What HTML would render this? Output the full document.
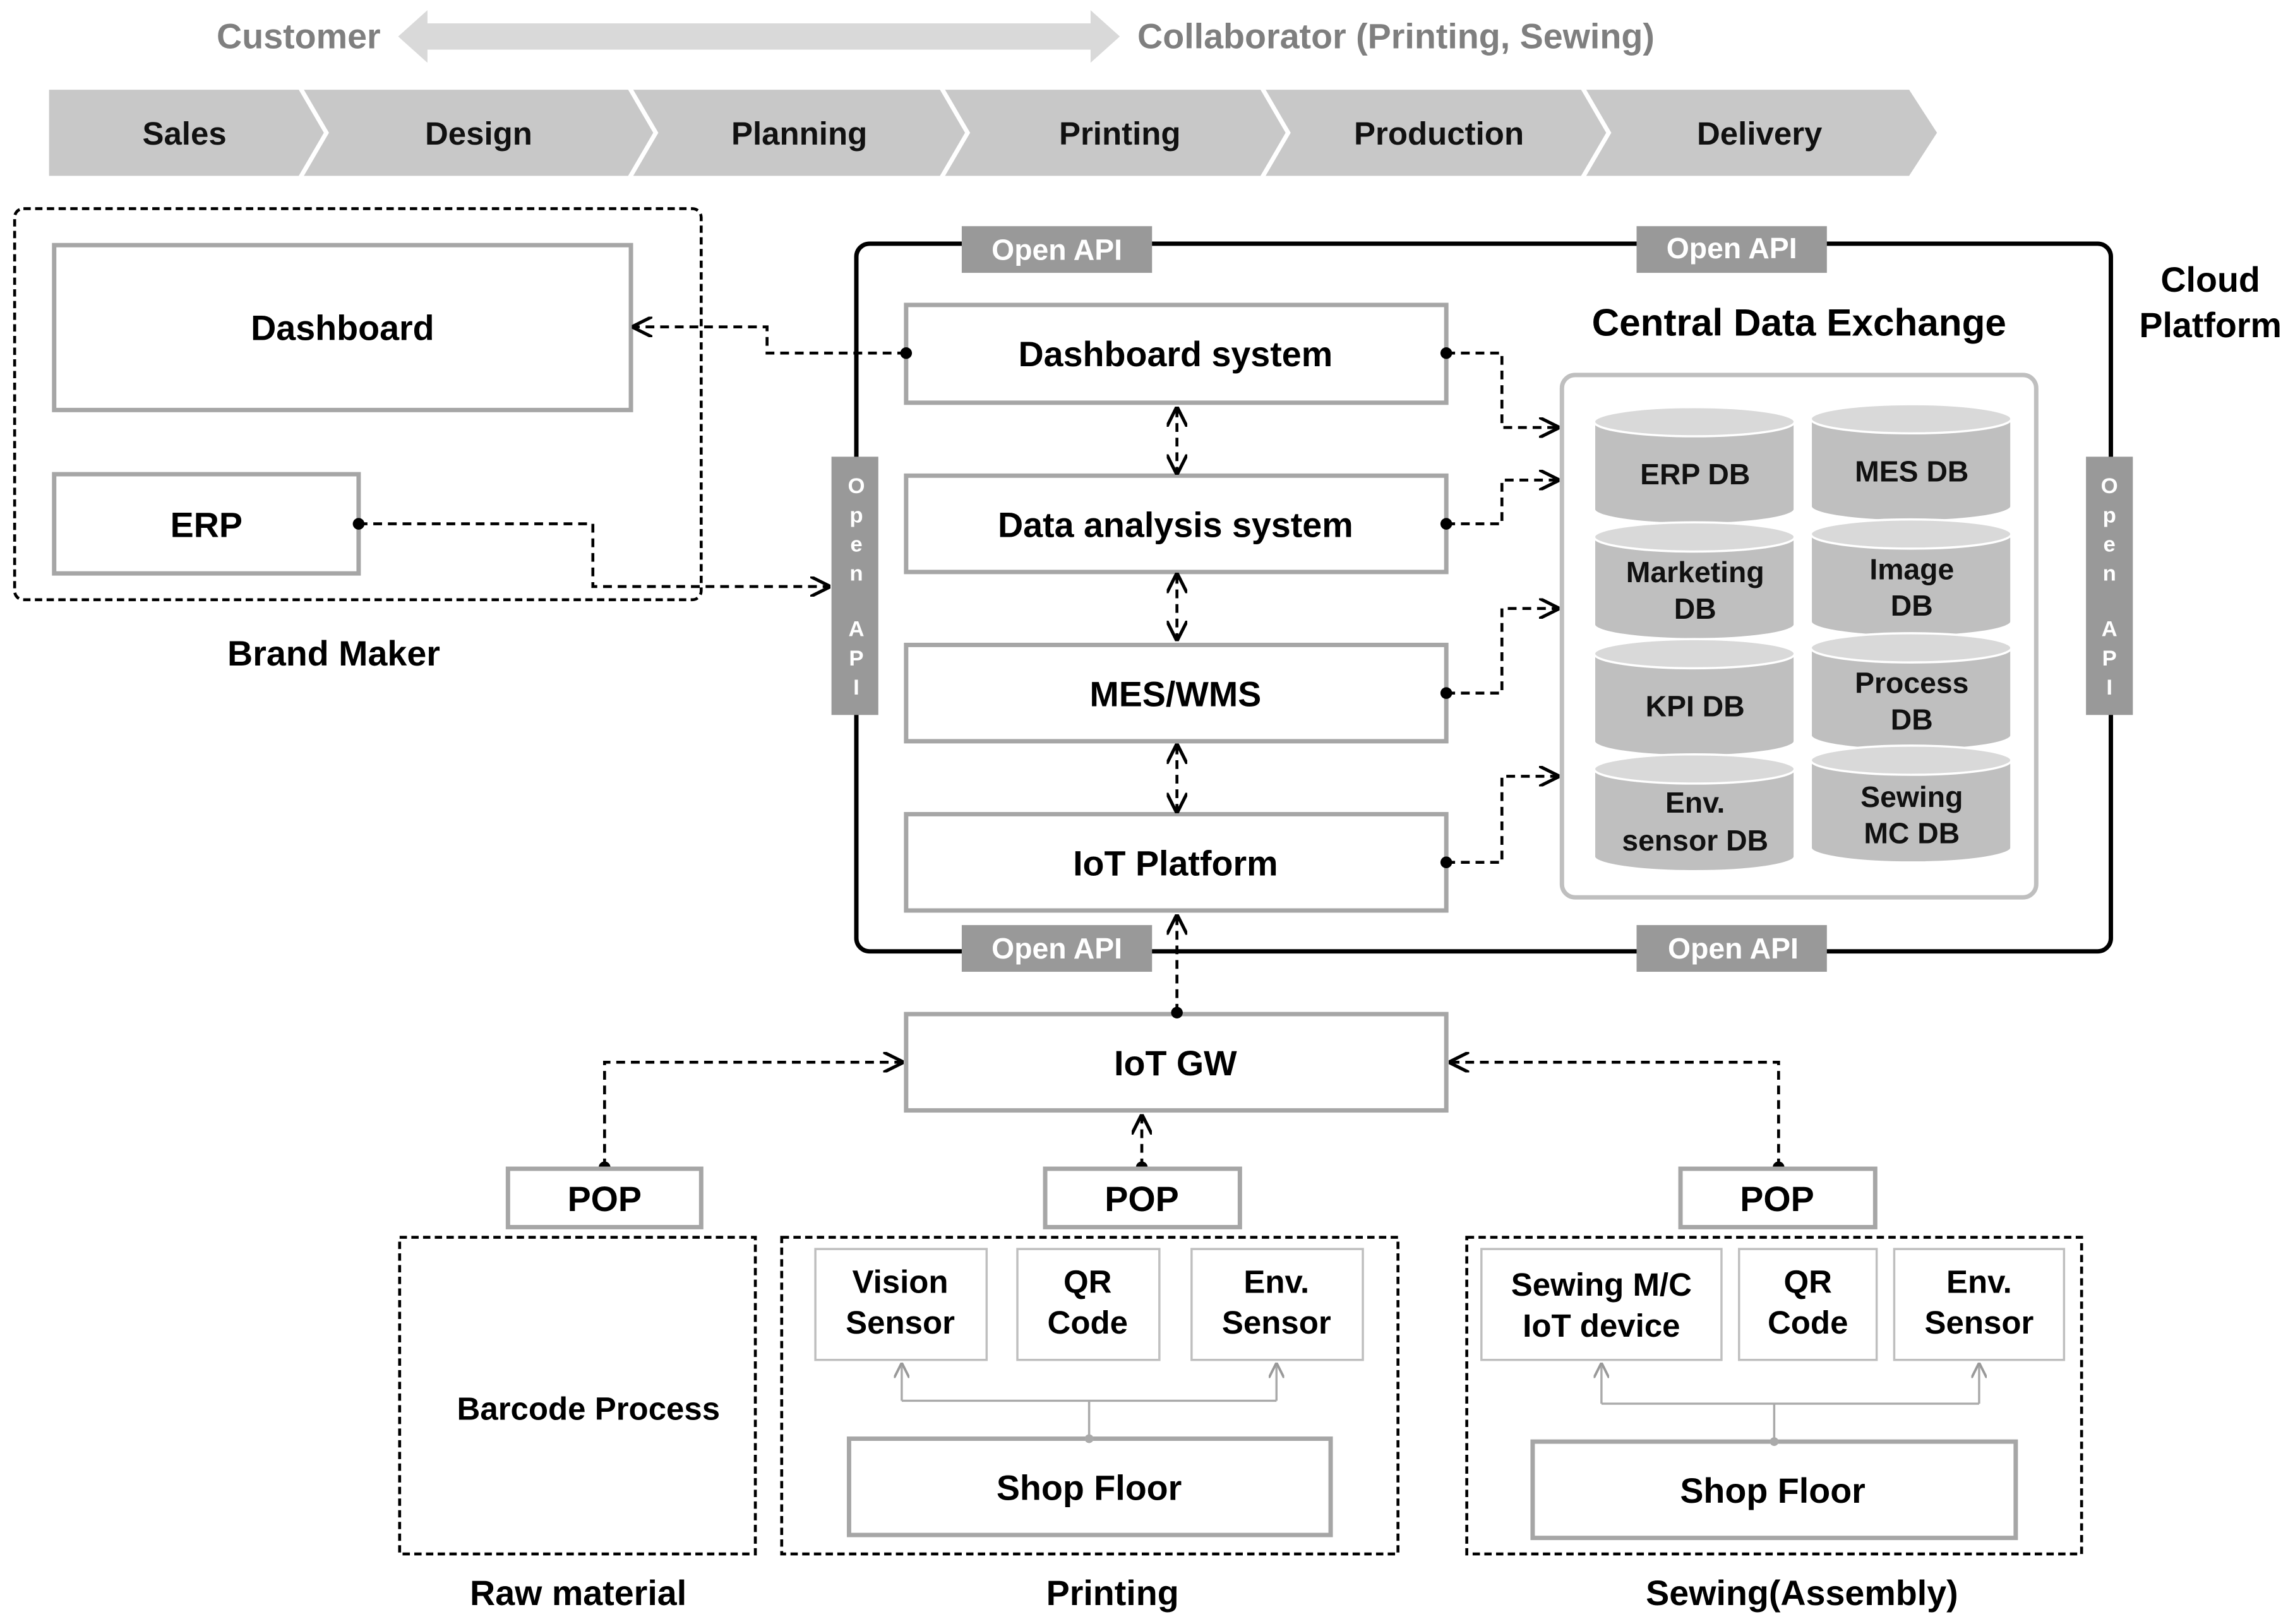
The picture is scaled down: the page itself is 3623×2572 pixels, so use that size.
<!DOCTYPE html>
<html><head><meta charset="utf-8"><style>
html,body{margin:0;padding:0;background:#fff;}
svg{display:block;}
text{font-family:"Liberation Sans",Arial,sans-serif;font-weight:bold;}
</style></head><body>
<svg width="3623" height="2572" viewBox="0 0 1563 1113" preserveAspectRatio="none" xmlns="http://www.w3.org/2000/svg">
<defs>
<marker id="ar" viewBox="0 0 10 10" refX="9" refY="5" markerWidth="7" markerHeight="7" orient="auto-start-reverse"><path d="M0,0 L10,5 L0,10" fill="none" stroke="#000" stroke-width="1.6"/></marker>
<marker id="ag" viewBox="0 0 10 10" refX="9" refY="5" markerWidth="7" markerHeight="7" orient="auto"><path d="M0,0 L10,5 L0,10" fill="none" stroke="#999" stroke-width="1.6"/></marker>
<marker id="dot" viewBox="0 0 10 10" refX="5" refY="5" markerWidth="5" markerHeight="5"><circle cx="5" cy="5" r="4" fill="#000"/></marker>
</defs>
<!-- top arrow -->
<text x="148" y="33" font-size="24" fill="#7f7f7f">Customer</text>
<path d="M272,25 L292,7 L292,16 L745,16 L745,7 L765,25 L745,43 L745,34 L292,34 L292,43 Z" fill="#d9d9d9"/>
<text x="777" y="33" font-size="24" fill="#7f7f7f">Collaborator (Printing, Sewing)</text>
<!-- chevrons -->
<g fill="#c8c8c8" stroke="#fff" stroke-width="3">
<path d="M32,60 L205,60 L223,91 L205,122 L32,122 Z"/>
<path d="M205,60 L430,60 L448,91 L430,122 L205,122 L223,91 Z"/>
<path d="M430,60 L643,60 L661,91 L643,122 L430,122 L448,91 Z"/>
<path d="M643,60 L862,60 L880,91 L862,122 L643,122 L661,91 Z"/>
<path d="M862,60 L1081,60 L1099,91 L1081,122 L862,122 L880,91 Z"/>
<path d="M1081,60 L1305,60 L1325,91 L1305,122 L1081,122 L1099,91 Z"/>
</g>
<g font-size="22" text-anchor="middle" fill="#111">
<text x="126" y="99">Sales</text><text x="327" y="99">Design</text><text x="546" y="99">Planning</text>
<text x="765" y="99">Printing</text><text x="983" y="99">Production</text><text x="1202" y="99">Delivery</text>
</g>
<!-- brand maker -->
<rect x="10" y="143" width="469" height="268" rx="6" fill="none" stroke="#000" stroke-width="2" stroke-dasharray="5,3"/>
<rect x="37" y="168" width="394" height="113" fill="#fff" stroke="#a6a6a6" stroke-width="3"/>
<rect x="37" y="325" width="208" height="68" fill="#fff" stroke="#a6a6a6" stroke-width="3"/>
<text x="234" y="233" font-size="24" text-anchor="middle">Dashboard</text>
<text x="141" y="368" font-size="24" text-anchor="middle">ERP</text>
<text x="228" y="456" font-size="24" text-anchor="middle">Brand Maker</text>
<!-- cloud -->
<rect x="585" y="167" width="857" height="485" rx="9" fill="none" stroke="#000" stroke-width="3"/>
<g fill="#999">
<rect x="657" y="155" width="130" height="32"/><rect x="1118" y="155" width="130" height="32"/>
<rect x="657" y="634" width="130" height="32"/><rect x="1118" y="634" width="130" height="32"/>
<rect x="568" y="313" width="32" height="177"/><rect x="1425" y="313" width="32" height="177"/>
</g>
<g font-size="20" fill="#fff" text-anchor="middle">
<text x="722" y="178">Open API</text><text x="1183" y="177">Open API</text>
<text x="722" y="657">Open API</text><text x="1184" y="657">Open API</text>
</g>
<g font-size="15" fill="#fff" text-anchor="middle">
<text x="585" y="338">O</text><text x="585" y="358">p</text><text x="585" y="378">e</text><text x="585" y="398">n</text><text x="585" y="436">A</text><text x="585" y="456">P</text><text x="585" y="476">I</text>
<text x="1441" y="338">O</text><text x="1441" y="358">p</text><text x="1441" y="378">e</text><text x="1441" y="398">n</text><text x="1441" y="436">A</text><text x="1441" y="456">P</text><text x="1441" y="476">I</text>
</g>
<text x="1510" y="200" font-size="24" text-anchor="middle">Cloud</text>
<text x="1510" y="231" font-size="24" text-anchor="middle">Platform</text>
<g fill="#fff" stroke="#a6a6a6" stroke-width="3">
<rect x="619" y="209" width="369" height="67"/><rect x="619" y="326" width="369" height="66"/>
<rect x="619" y="442" width="369" height="66"/><rect x="619" y="558" width="369" height="66"/>
<rect x="619" y="695" width="369" height="66"/>
</g>
<g font-size="24" text-anchor="middle">
<text x="803" y="251">Dashboard system</text><text x="803" y="368">Data analysis system</text>
<text x="803" y="484">MES/WMS</text><text x="803" y="600">IoT Platform</text><text x="803" y="737">IoT GW</text>
</g>
<text x="1229" y="230" font-size="26" text-anchor="middle">Central Data Exchange</text>
<rect x="1067" y="257" width="324" height="358" rx="9" fill="#fff" stroke="#bfbfbf" stroke-width="3"/>
<!-- cylinders -->
<g>
<g id="c">
</g>
</g>
<g stroke="#fff" stroke-width="1.5">
<path d="M1089,289 L1089,349 A68,10 0 0 0 1226,349 L1226,289 Z" fill="#bfbfbf"/><ellipse cx="1157.5" cy="289" rx="68.5" ry="10" fill="#d9d9d9"/>
<path d="M1237,287 L1237,347 A68,10 0 0 0 1374,347 L1374,287 Z" fill="#bfbfbf"/><ellipse cx="1305.5" cy="287" rx="68.5" ry="10" fill="#d9d9d9"/>
<path d="M1089,368 L1089,428 A68,10 0 0 0 1226,428 L1226,368 Z" fill="#bfbfbf"/><ellipse cx="1157.5" cy="368" rx="68.5" ry="10" fill="#d9d9d9"/>
<path d="M1237,366 L1237,426 A68,10 0 0 0 1374,426 L1374,366 Z" fill="#bfbfbf"/><ellipse cx="1305.5" cy="366" rx="68.5" ry="10" fill="#d9d9d9"/>
<path d="M1089,448 L1089,508 A68,10 0 0 0 1226,508 L1226,448 Z" fill="#bfbfbf"/><ellipse cx="1157.5" cy="448" rx="68.5" ry="10" fill="#d9d9d9"/>
<path d="M1237,444 L1237,504 A68,10 0 0 0 1374,504 L1374,444 Z" fill="#bfbfbf"/><ellipse cx="1305.5" cy="444" rx="68.5" ry="10" fill="#d9d9d9"/>
<path d="M1089,527 L1089,587 A68,10 0 0 0 1226,587 L1226,527 Z" fill="#bfbfbf"/><ellipse cx="1157.5" cy="527" rx="68.5" ry="10" fill="#d9d9d9"/>
<path d="M1237,521 L1237,581 A68,10 0 0 0 1374,581 L1374,521 Z" fill="#bfbfbf"/><ellipse cx="1305.5" cy="521" rx="68.5" ry="10" fill="#d9d9d9"/>
</g>
<g font-size="20" text-anchor="middle" fill="#111">
<text x="1158" y="332">ERP DB</text><text x="1306" y="330">MES DB</text>
<text x="1158" y="399">Marketing</text><text x="1158" y="424">DB</text>
<text x="1306" y="397">Image</text><text x="1306" y="422">DB</text>
<text x="1158" y="491">KPI DB</text>
<text x="1306" y="475">Process</text><text x="1306" y="500">DB</text>
<text x="1158" y="557">Env.</text><text x="1158" y="583">sensor DB</text>
<text x="1306" y="553">Sewing</text><text x="1306" y="578">MC DB</text>
</g>
<!-- connectors -->
<g fill="none" stroke="#000" stroke-width="2" stroke-dasharray="6,4">
<path d="M619,242 L524,242 L524,224 L433,224" marker-start="url(#dot)" marker-end="url(#ar)"/>
<path d="M245,359 L405,359 L405,402 L566,402" marker-start="url(#dot)" marker-end="url(#ar)"/>
<path d="M988,242 L1026,242 L1026,293 L1064,293" marker-start="url(#dot)" marker-end="url(#ar)"/>
<path d="M988,359 L1026,359 L1026,329 L1064,329" marker-start="url(#dot)" marker-end="url(#ar)"/>
<path d="M988,475 L1026,475 L1026,417 L1064,417" marker-start="url(#dot)" marker-end="url(#ar)"/>
<path d="M988,591 L1026,591 L1026,532 L1064,532" marker-start="url(#dot)" marker-end="url(#ar)"/>
<path d="M804,280 L804,324" marker-start="url(#ar)" marker-end="url(#ar)"/>
<path d="M804,394 L804,438" marker-start="url(#ar)" marker-end="url(#ar)"/>
<path d="M804,511 L804,556" marker-start="url(#ar)" marker-end="url(#ar)"/>
<path d="M804,694 L804,628" marker-start="url(#dot)" marker-end="url(#ar)"/>
<path d="M413,800 L413,728 L616,728" marker-start="url(#dot)" marker-end="url(#ar)"/>
<path d="M780,800 L780,765" marker-start="url(#dot)" marker-end="url(#ar)"/>
<path d="M1215,800 L1215,728 L991,728" marker-start="url(#dot)" marker-end="url(#ar)"/>
</g>
<!-- bottom -->
<g fill="#fff" stroke="#a6a6a6" stroke-width="3">
<rect x="347" y="801" width="132" height="40"/><rect x="714" y="801" width="133" height="40"/><rect x="1148" y="801" width="133" height="40"/>
</g>
<g font-size="24" text-anchor="middle">
<text x="413" y="830">POP</text><text x="780" y="830">POP</text><text x="1214" y="830">POP</text>
</g>
<g fill="none" stroke="#000" stroke-width="2" stroke-dasharray="5,3">
<rect x="273" y="848" width="243" height="217"/><rect x="534" y="848" width="421" height="217"/><rect x="1002" y="848" width="420" height="217"/>
</g>
<text x="402" y="973" font-size="22" text-anchor="middle">Barcode  Process</text>
<g fill="#fff" stroke="#bfbfbf" stroke-width="1.5">
<rect x="557" y="856" width="117" height="76"/><rect x="695" y="856" width="97" height="76"/><rect x="814" y="856" width="117" height="76"/>
<rect x="1012" y="856" width="164" height="76"/><rect x="1188" y="856" width="94" height="76"/><rect x="1294" y="856" width="116" height="76"/>
</g>
<g fill="#fff" stroke="#a6a6a6" stroke-width="3">
<rect x="580" y="986" width="329" height="66"/><rect x="1047" y="988" width="330" height="66"/>
</g>
<g fill="none" stroke="#aaa" stroke-width="1.5">
<path d="M744,986 L744,960 M616,960 L872,960"/>
<path d="M616,960 L616,935" marker-end="url(#ag)"/><path d="M872,960 L872,935" marker-end="url(#ag)"/>
<path d="M1212,988 L1212,962 M1094,962 L1352,962"/>
<path d="M1094,962 L1094,935" marker-end="url(#ag)"/><path d="M1352,962 L1352,935" marker-end="url(#ag)"/>
</g>
<circle cx="744" cy="986" r="3" fill="#aaa"/><circle cx="1212" cy="988" r="3" fill="#aaa"/>
<g font-size="22" text-anchor="middle">
<text x="615" y="886">Vision</text><text x="615" y="914">Sensor</text>
<text x="743" y="886">QR</text><text x="743" y="914">Code</text>
<text x="872" y="886">Env.</text><text x="872" y="914">Sensor</text>
<text x="1094" y="888">Sewing M/C</text><text x="1094" y="916">IoT device</text>
<text x="1235" y="886">QR</text><text x="1235" y="914">Code</text>
<text x="1352" y="886">Env.</text><text x="1352" y="914">Sensor</text>
</g>
<g font-size="24" text-anchor="middle">
<text x="744" y="1028">Shop Floor</text><text x="1211" y="1030">Shop Floor</text>
<text x="395" y="1100">Raw material</text><text x="760" y="1100">Printing</text><text x="1231" y="1100">Sewing(Assembly)</text>
</g>
</svg>
</body></html>
